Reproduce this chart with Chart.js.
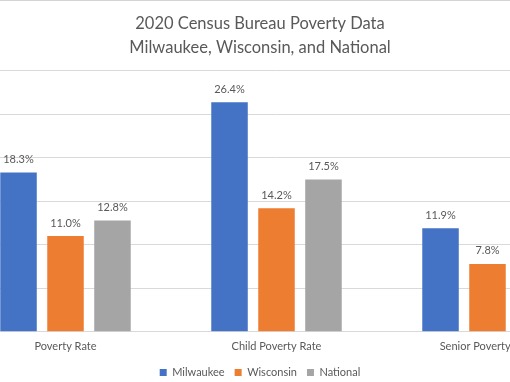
<!DOCTYPE html>
<html>
<head>
<meta charset="utf-8">
<script src="https://cdn.jsdelivr.net/npm/chart.js@4.4.1/dist/chart.umd.min.js"></script>
<style>
  html, body { margin: 0; padding: 0; background: #fff; overflow: hidden; width: 510px; height: 382px; }
  #wrap { position: absolute; left: -73px; top: 0; width: 666px; height: 382px; }
  canvas { display: block; }
</style>
</head>
<body>
<div id="wrap"><canvas id="c" width="666" height="382"></canvas></div>
<script>
const titleLines = ["2020 Census Bureau Poverty Data", "Milwaukee, Wisconsin, and National"];
const categories = ["Poverty Rate", "Child Poverty Rate", "Senior Poverty Rate"];
const milwaukee = [18.3, 26.4, 11.9];
const wisconsin = [11.0, 14.2, 7.8];
// National senior value lies outside the visible crop of the reference
const national = [12.8, 17.5, null];
const yTicks = [0, 5, 10, 15, 20, 25, 30];

const FONT = "Lato, 'Open Sans', sans-serif";
const TXT = "#595959";

const dataLabels = {
  id: 'dataLabels',
  afterDatasetsDraw(chart) {
    const ctx = chart.ctx;
    ctx.save();
    ctx.font = "11px " + FONT;
    ctx.fillStyle = TXT;
    ctx.textAlign = "center";
    ctx.textBaseline = "middle";
    chart.data.datasets.forEach((ds, i) => {
      const meta = chart.getDatasetMeta(i);
      meta.data.forEach((el, j) => {
        const v = ds.data[j];
        if (v === null || v === undefined) return;
        ctx.fillText(v.toFixed(1) + "%", el.x, el.y - 13);
      });
    });
    ctx.restore();
  }
};

const topBorder = {
  id: 'topBorder',
  beforeDraw(chart) {
    const ctx = chart.ctx;
    ctx.save();
    ctx.fillStyle = "#fff";
    ctx.fillRect(0, 0, chart.width, chart.height);
    ctx.strokeStyle = "#D4D4D4";
    ctx.lineWidth = 1;
    ctx.beginPath();
    ctx.moveTo(0, 0.5);
    ctx.lineTo(chart.width, 0.5);
    ctx.stroke();
    ctx.restore();
  }
};

new Chart(document.getElementById("c"), {
  type: "bar",
  data: {
    labels: categories,
    datasets: [
      { label: "Milwaukee", data: milwaukee, backgroundColor: "#4472C4" },
      { label: "Wisconsin", data: wisconsin, backgroundColor: "#ED7D31" },
      { label: "National", data: national, backgroundColor: "#A5A5A5" }
    ]
  },
  options: {
    responsive: false,
    animation: false,
    devicePixelRatio: 1,
    layout: { padding: { left: 0, right: 0, top: 0, bottom: -6 } },
    datasets: { bar: { categoryPercentage: 0.668, barPercentage: 0.777 } },
    plugins: {
      title: {
        display: true,
        text: titleLines,
        color: TXT,
        font: { family: FONT, size: 16.5, weight: "normal", lineHeight: 1.45 },
        padding: { top: 12, bottom: 11 }
      },
      legend: {
        position: "bottom",
        labels: {
          color: TXT,
          font: { family: FONT, size: 11 },
          boxWidth: 7,
          boxHeight: 7,
          padding: 10
        }
      },
      tooltip: { enabled: false }
    },
    scales: {
      x: {
        grid: { display: false, drawTicks: false },
        border: { display: true, color: "#D9D9D9" },
        ticks: { color: TXT, font: { family: FONT, size: 11 }, padding: 8, maxRotation: 0, autoSkip: false },
        afterFit(scale) { scale.height = scale.height - 4; }
      },
      y: {
        min: 0, max: 30,
        afterBuildTicks(scale) { scale.ticks = yTicks.map(v => ({ value: v })); },
        afterFit(scale) { scale.width = 33; },
        ticks: { display: false },
        border: { display: false },
        grid: { color: "#D9D9D9", drawTicks: false }
      }
    }
  },
  plugins: [dataLabels, topBorder]
});
</script>
</body>
</html>
